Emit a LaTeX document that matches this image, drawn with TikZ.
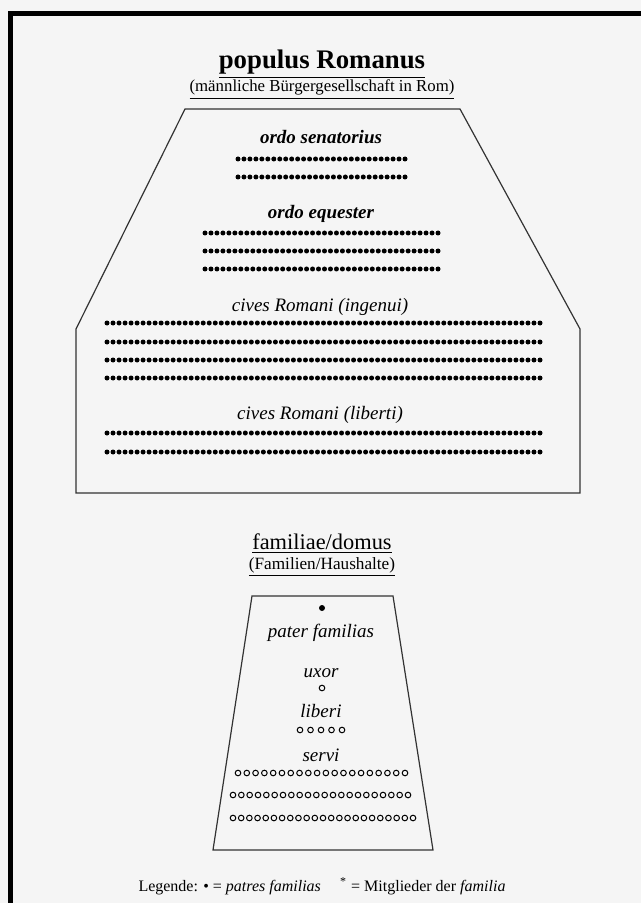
\documentclass[tikz,border=0pt]{standalone}
\usepackage{fontspec}
\setmainfont{Liberation Serif}
\usetikzlibrary{positioning}

\begin{document}
\begin{tikzpicture}[x=0.5pt,y=-0.5pt,
		titel/.style={anchor=base,font=\fontsize{13.4}{15}\selectfont\bfseries},
		untertitel/.style={anchor=base,font=\fontsize{8.4}{10}\selectfont},
		gruppe/.style={anchor=base,font=\fontsize{9.5}{11}\selectfont\itshape},
		rahmen/.style={draw=black!80,line width=0.6pt}]
		\useasboundingbox[fill=black!4] (0,0) rectangle (641,903);
		\draw[line width=2.5pt] (641,14) -- (10,14) -- (10,903);
		
		% populus Romanus
		\node[titel] (populus) at (322,69) {\underline{populus Romanus}};
		\node[untertitel] (buerger) at (322,92) {\underline{(männliche Bürgergesellschaft in Rom)}};
		\draw[rahmen] (185,109) -- (460,109) -- (580,329) -- (580,493) -- (76,493) -- (76,329) -- cycle;
		\node[gruppe,font=\fontsize{9.5}{11}\selectfont\bfseries\itshape] (senat) at (321,144) {ordo senatorius};
		\node[gruppe,font=\fontsize{9.5}{11}\selectfont\bfseries\itshape] (equit) at (321,219) {ordo equester};
		\node[gruppe] (ingenui) at (320,311) {cives Romani (ingenui)};
		\node[gruppe] (liberti) at (320,419) {cives Romani (liberti)};
		\foreach \y/\a/\b/\n in {159/238/405/28, 177/238/405/28,
				233/205/438/39, 251/205/438/39, 269/205/438/39,
				323/107/540/72, 342/107/540/72, 360/107/540/72, 378/107/540/72,
				433/107/540/72, 452/107/540/72}
			\foreach \i in {0,...,\n}
				\fill ({\a+(\b-\a)/\n*\i},\y) circle (1.25pt);
		
		% familiae/domus
		\node[anchor=base,font=\fontsize{11.2}{13}\selectfont] (familiae) at (322,549) {\underline{familiae/domus}};
		\node[untertitel,font=\fontsize{8.6}{10}\selectfont] (haushalte) at (322,569) {\underline{(Familien/Haushalte)}};
		\draw[rahmen] (252,596) -- (393,596) -- (433,850) -- (213,850) -- cycle;
		\fill (322,608) circle (1.5pt);
		\node[gruppe] (pater) at (321,637) {pater familias};
		\node[gruppe] (uxor) at (321,677) {uxor};
		\draw[line width=0.5pt] (322,688) circle (1.4pt);
		\node[gruppe] (liberi) at (321,717) {liberi};
		\node[gruppe] (servi) at (321,761) {servi};
		\foreach \y/\a/\b/\n in {730/300/342/4, 773/238/405/19, 795/233/408/21, 818/233/413/22}
			\foreach \i in {0,...,\n}
				\draw[line width=0.5pt] ({\a+(\b-\a)/\n*\i},\y) circle (1.4pt);
		
		\node[anchor=base,font=\fontsize{8}{10}\selectfont] (legende) at (322,891)
			{Legende: \textbullet{} = \textit{patres familias}\hspace{1.2em}\textsuperscript{*} = Mitglieder der \textit{familia}};
	\end{tikzpicture}
\end{document}
